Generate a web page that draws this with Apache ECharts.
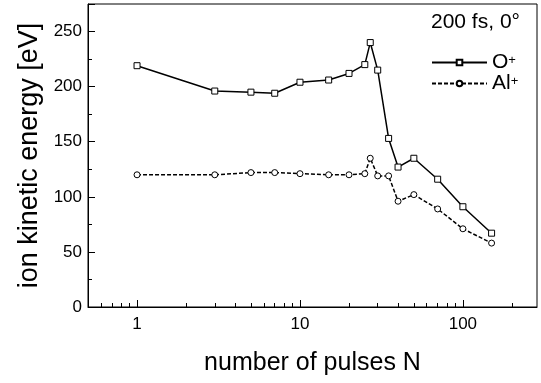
<!DOCTYPE html>
<html>
<head>
<meta charset="utf-8">
<script src="https://cdn.jsdelivr.net/npm/echarts@6/dist/echarts.min.js"></script>
<style>html,body{margin:0;padding:0;background:#fff;}#c{width:541px;height:383px;}</style>
</head>
<body>
<div id="c"></div>
<script>
const pulses = [1, 3, 5, 7, 10, 15, 20, 25, 27, 30, 35, 40, 50, 70, 100, 150];
const energyO = [219, 196, 195, 194, 204, 206, 212, 220, 240, 215, 153, 127, 135, 116, 91, 67];
const energyAl = [120, 120, 122, 122, 121, 120, 120, 121, 135, 119, 119, 96, 102, 89, 71, 58];
const xMajorTicks = [1, 10, 100];
const xMinorTicks = [0.6, 0.7, 0.8, 0.9, 2, 3, 4, 5, 6, 7, 8, 9, 20, 30, 40, 50, 60, 70, 80, 90, 200];
const xRange = [0.5, 285];
const yTicks = [0, 50, 100, 150, 200, 250];

const FONT = 'Liberation Sans, Arial, Helvetica, sans-serif';
const lg = v => Math.log10(v);
const toData = ys => pulses.map((n, i) => [lg(n), ys[i]]);

const chart = echarts.init(document.getElementById('c'), null, {renderer: 'canvas'});
chart.setOption({
  animation: false,
  backgroundColor: '#fff',
  textStyle: {fontFamily: FONT, color: '#000'},
  title: {
    text: '200 fs, 0°',
    left: 426, top: 7,
    textStyle: {fontFamily: FONT, fontSize: 21, fontWeight: 'normal', color: '#000'}
  },
  legend: {
    orient: 'vertical',
    left: 431, top: 52, padding: 0,
    itemWidth: 55, itemHeight: 7, itemGap: 0,
    data: ['O', 'Al'],
    formatter: name => '{b|' + name + '}{s|+}',
    textStyle: {
      fontFamily: FONT, color: '#000',
      rich: {
        b: {fontFamily: FONT, fontSize: 21, lineHeight: 18, color: '#000', verticalAlign: 'middle'},
        s: {fontFamily: FONT, fontSize: 13, lineHeight: 12, color: '#000', verticalAlign: 'top'}
      }
    }
  },
  grid: {
    left: 88, right: 4, top: 4, bottom: 76,
    show: true, borderColor: '#000', borderWidth: 1, backgroundColor: 'transparent'
  },
  xAxis: [{
    type: 'value',
    min: lg(xRange[0]), max: lg(xRange[1]),
    name: 'number of pulses N',
    nameLocation: 'middle', nameGap: 44,
    nameTextStyle: {fontFamily: FONT, fontSize: 25, color: '#000'},
    axisLine: {show: true, onZero: false, lineStyle: {color: '#000', width: 1}},
    axisTick: {show: true, inside: true, length: 7, lineStyle: {color: '#000'}, customValues: xMajorTicks.map(lg)},
    axisLabel: {
      show: true, fontFamily: FONT, fontSize: 17, color: '#000', margin: 9,
      customValues: xMajorTicks.map(lg),
      formatter: v => String(Math.round(Math.pow(10, v)))
    },
    splitLine: {show: false}
  }, {
    type: 'value',
    position: 'bottom',
    min: lg(xRange[0]), max: lg(xRange[1]),
    axisLine: {show: false, onZero: false},
    axisTick: {show: true, inside: true, length: 4, lineStyle: {color: '#000'}, customValues: xMinorTicks.map(lg)},
    axisLabel: {show: false},
    splitLine: {show: false}
  }],
  yAxis: {
    type: 'value',
    min: 0, max: 275, interval: 50,
    name: 'ion kinetic energy [eV]',
    nameLocation: 'middle', nameGap: 45,
    nameTextStyle: {fontFamily: FONT, fontSize: 27, color: '#000'},
    axisLine: {show: true, onZero: false, lineStyle: {color: '#000', width: 1}},
    axisTick: {show: true, inside: true, length: 7, lineStyle: {color: '#000'}},
    minorTick: {show: true, splitNumber: 2, length: 4, lineStyle: {color: '#000'}},
    axisLabel: {
      fontFamily: FONT, fontSize: 17, color: '#000', margin: 6,
      customValues: yTicks
    },
    splitLine: {show: false}
  },
  series: [{
    name: 'O',
    type: 'line',
    data: toData(energyO),
    symbol: 'rect', symbolSize: 6,
    lineStyle: {color: '#000', width: 1.5, type: 'solid'},
    itemStyle: {color: '#fff', borderColor: '#000', borderWidth: 1},
    z: 3
  }, {
    name: 'Al',
    type: 'line',
    data: toData(energyAl),
    symbol: 'circle', symbolSize: 6,
    lineStyle: {color: '#000', width: 1.5, type: [4, 2]},
    itemStyle: {color: '#fff', borderColor: '#000', borderWidth: 1},
    z: 3
  }]
});
</script>
</body>
</html>
